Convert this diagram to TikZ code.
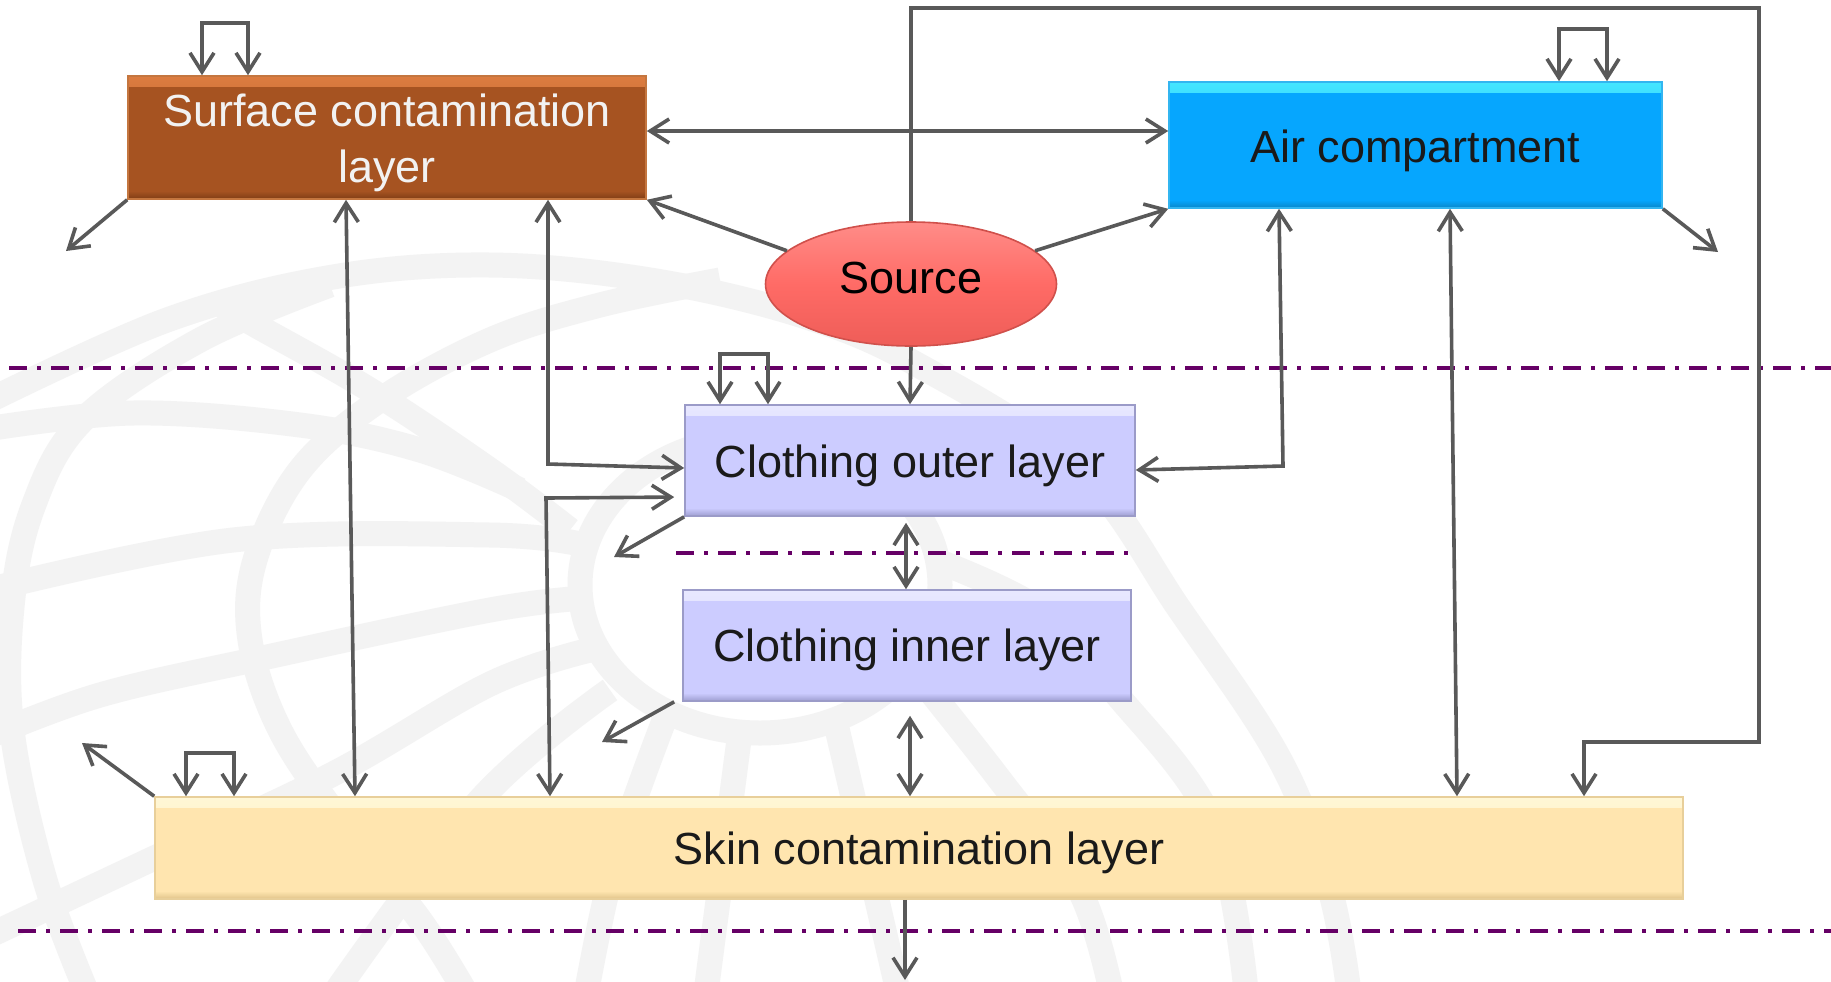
\documentclass[tikz,border=0pt]{standalone}
\usepackage{fontspec}
\setmainfont{Liberation Sans}
\usetikzlibrary{arrows.meta,shapes.geometric,calc}

\definecolor{linegray}{HTML}{595959}
\definecolor{sepc}{HTML}{660066}
\definecolor{wm}{HTML}{F3F3F3}
\definecolor{surfc}{HTML}{A65321}
\definecolor{surfhi}{HTML}{DC7C40}
\definecolor{surflo}{HTML}{7F3D15}
\definecolor{surfbd}{HTML}{C4763F}
\definecolor{surftxt}{HTML}{F2F2F2}
\definecolor{airc}{HTML}{06A6FE}
\definecolor{airhi}{HTML}{44E6FF}
\definecolor{airlo}{HTML}{0A86C8}
\definecolor{airbd}{HTML}{33B5F0}
\definecolor{clothc}{HTML}{CCCCFF}
\definecolor{clothhi}{HTML}{E8E8FF}
\definecolor{clothlo}{HTML}{9E9ED0}
\definecolor{clothbd}{HTML}{9B9BC8}
\definecolor{skinc}{HTML}{FFE5AF}
\definecolor{skinhi}{HTML}{FFF7D6}
\definecolor{skinlo}{HTML}{E0C48A}
\definecolor{skinbd}{HTML}{E8CF9A}
\definecolor{srcc}{HTML}{FF6B66}
\definecolor{srchi}{HTML}{FF8C88}
\definecolor{srclo}{HTML}{EE5D58}
\definecolor{srcbd}{HTML}{D0504B}
\definecolor{txtdark}{HTML}{1A1A1A}

\tikzset{
  box/.style={rectangle, inner sep=0pt, align=center, text=txtdark,
    font=\fontsize{22.5}{28}\selectfont, text height=16.5pt, text depth=0pt},
  bevel/.style n args={4}{fill=#1, draw=#4, line width=0.8pt,
    path picture={
      \shade[top color=#2, bottom color=#1]
        (path picture bounding box.north west) rectangle ([yshift=-5pt]path picture bounding box.north east);
      \shade[top color=#1, bottom color=#3]
        ([yshift=4pt]path picture bounding box.south west) rectangle (path picture bounding box.south east);
    }},
  conn/.style={draw=linegray, line width=1.8pt, -{Straight Barb[length=9.5pt,width=12pt]}},
  conn2/.style={draw=linegray, line width=1.8pt,
    {Straight Barb[length=9.5pt,width=12pt]}-{Straight Barb[length=9.5pt,width=12pt]}},
  sepline/.style={draw=sepc, line width=2pt,
    dash pattern=on 9pt off 5pt on 2pt off 5pt},
  globe/.style={draw=wm, line width=12.5pt, line cap=butt},
}

\begin{document}
\begin{tikzpicture}[x=0.5pt, y=-0.5pt]
\useasboundingbox (0,0) rectangle (1831,981);
\fill[white] (0,0) rectangle (1831,981);

% faint globe emblem in the background
\begin{scope}
  \clip (0,0) rectangle (1831,981);
  \begin{scope}[globe]
    % outline
    \draw plot[smooth, tension=0.6] coordinates {(-20,405) (167,320) (333,277) (490,265)
      (650,280) (800,315) (916,364) (1080,470) (1180,610) (1280,760) (1330,890) (1350,1000)};
    % meridians
    \draw plot[smooth, tension=0.6] coordinates {(330,285) (200,340) (83,420) (33,507)
      (12,607) (12,730) (45,880) (90,1000)};
    \draw plot[smooth, tension=0.6] coordinates {(720,280) (600,305) (490,340) (380,400)
      (300,470) (255,560) (250,640) (280,730) (340,820) (420,920) (470,1000)};
    \draw plot[smooth, tension=0.6] coordinates {(215,300) (250,322) (370,390) (490,470) (570,530)};
    % parallels
    \draw plot[smooth, tension=0.6] coordinates {(-20,430) (133,413) (300,425) (420,450) (520,490)};
    \draw plot[smooth, tension=0.6] coordinates {(-20,592) (233,540) (490,535) (585,545)};
    \draw plot[smooth, tension=0.6] coordinates {(-20,740) (100,695) (267,657) (490,610) (585,598)};
    \draw plot[smooth, tension=0.6] coordinates {(-20,940) (150,860) (333,774) (490,684) (590,650)};
    % polar ring and spokes
    \draw (760,585) ellipse[x radius=180, y radius=148];
    \draw plot[smooth, tension=0.6] coordinates {(610,690) (480,800) (330,1000)};
    \draw plot[smooth, tension=0.6] coordinates {(665,718) (615,860) (585,1000)};
    \draw plot[smooth, tension=0.6] coordinates {(740,732) (722,870) (705,1000)};
    \draw plot[smooth, tension=0.6] coordinates {(835,720) (870,870) (900,1000)};
    \draw plot[smooth, tension=0.6] coordinates {(905,660) (1000,780) (1080,891) (1113,1000)};
    \draw plot[smooth, tension=0.6] coordinates {(935,560) (1040,610) (1113,690) (1213,824) (1247,1000)};
  \end{scope}
\end{scope}

% compartment boundaries
\draw[sepline] (9,368) -- (1831,368);
\draw[sepline] (676,553) -- (1132,553);
\draw[sepline] (18,931) -- (1831,931);

% compartments
\node[box, bevel={surfc}{surfhi}{surflo}{surfbd}, text=surftxt,
      text height=44.5pt, minimum width=259pt, minimum height=61.5pt] (surf) at (387,137.5)
      {Surface contamination\\layer};
\node[box, bevel={airc}{airhi}{airlo}{airbd}, text height=17pt,
      minimum width=246.5pt, minimum height=63pt] (air) at (1415.5,145)
      {Air compartment};
\node[ellipse, inner sep=0pt, minimum width=145.5pt, minimum height=62pt,
      top color=srchi, bottom color=srclo, middle color=srcc, draw=srcbd, line width=0.8pt,
      text=black, font=\fontsize{22.5}{28}\selectfont, text height=9pt, text depth=0pt]
      (src) at (911,284) {Source};
\node[box, bevel={clothc}{clothhi}{clothlo}{clothbd},
      minimum width=225pt, minimum height=55.5pt] (outer) at (910,460.5)
      {Clothing outer layer};
\node[box, bevel={clothc}{clothhi}{clothlo}{clothbd}, text height=15.5pt,
      minimum width=224pt, minimum height=55.5pt] (inner) at (907,645.5)
      {Clothing inner layer};
\node[box, bevel={skinc}{skinhi}{skinlo}{skinbd}, text height=16pt,
      minimum width=764pt, minimum height=51pt] (skin) at (919,848)
      {Skin contamination layer};

% self-retention loops
\coordinate (surfloop) at (225,23);
\coordinate (airloop) at (1583,29);
\coordinate (outerloop) at (744,354);
\coordinate (skinloop) at (210,753);
\draw[conn2] (202,0 |- surf.north) |- (surfloop) -| (248,0 |- surf.north);
\draw[conn2] (1559,0 |- air.north) |- (airloop) -| (1607,0 |- air.north);
\draw[conn2] (720,0 |- outer.north) |- (outerloop) -| (768,0 |- outer.north);
\draw[conn2] (186,0 |- skin.north) |- (skinloop) -| (234,0 |- skin.north);

% exchanges between compartments
\draw[conn2] (surf.east |- 0,131) -- (air.west |- 0,131);
\draw[conn] (src.165) -- (surf.south east);
\draw[conn] (src.15) -- (air.south west);
\draw[conn] (src.south) -- (outer.north);
\coordinate (tr) at (1759,8);
\coordinate (lb) at (1584,742);
\draw[conn] (src.north) |- (tr) |- (lb) -- (lb |- skin.north);

\draw[conn2] (346,0 |- surf.south) -- (355,0 |- skin.north);
\coordinate (b1) at (548,464);
\draw[conn2] (548,0 |- surf.south) -- (b1) -- (outer.west |- 0,468);
\coordinate (b2) at (546,498);
\draw[conn2, shorten >=5pt] (550,0 |- skin.north) -- (b2) -- (outer.west |- 0,497);
\coordinate (b3) at (1283,466);
\draw[conn2] (1279,0 |- air.south) -- (b3) -- (outer.east |- 0,470);
\draw[conn2] (1450,0 |- air.south) -- (1457,0 |- skin.north);
\draw[conn2, shorten <=3pt] (906,0 |- outer.south) -- (906,0 |- inner.north);
\draw[conn2, shorten <=7pt] (910,0 |- inner.south) -- (910,0 |- skin.north);

% losses out of the system
\coordinate (oS) at (66,251);
\coordinate (oA) at (1718,252);
\coordinate (oO) at (614,557);
\coordinate (oI) at (602,742);
\coordinate (oK) at (82,743);
\coordinate (oD) at (905,980);
\draw[conn] (surf.south west) -- (oS);
\draw[conn] (air.south east) -- (oA);
\draw[conn] (outer.south west) -- (oO);
\draw[conn] ([xshift=-4pt]inner.south west) -- (oI);
\draw[conn] (skin.north west) -- (oK);
\draw[conn] (905,0 |- skin.south) -- (oD);
\end{tikzpicture}
\end{document}
